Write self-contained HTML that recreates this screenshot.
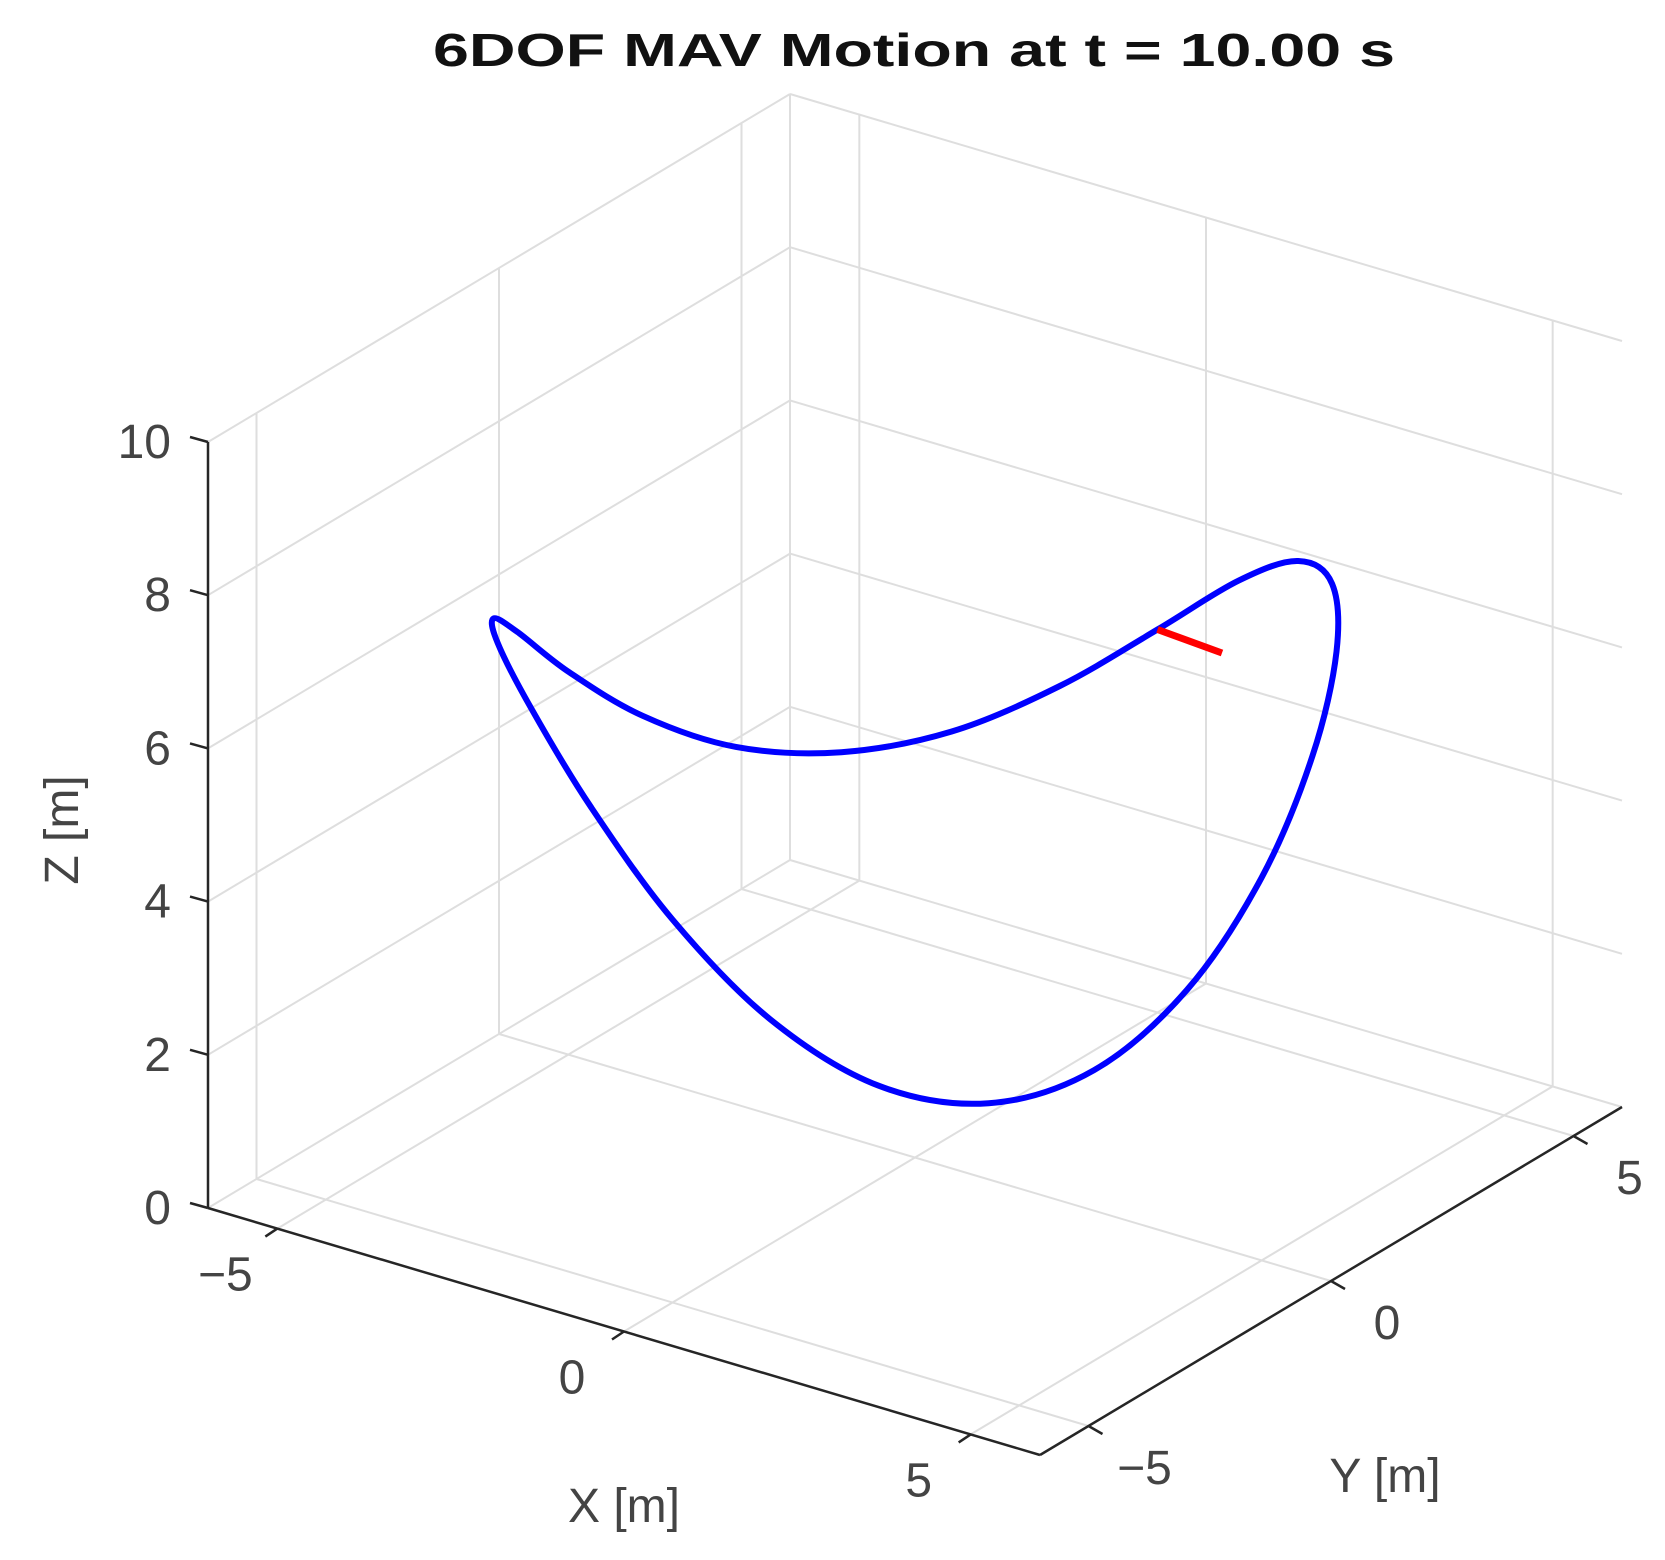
<!DOCTYPE html>
<html><head><meta charset="utf-8"><style>
html,body{margin:0;padding:0;background:#fff;}
svg{display:block;font-family:"Liberation Sans",sans-serif;}
</style></head><body>
<svg id="chart" width="1665" height="1560" viewBox="0 0 1665 1560" xmlns="http://www.w3.org/2000/svg">
<text x="914" y="66" text-anchor="middle" font-size="46" font-weight="bold" fill="#111" textLength="962" lengthAdjust="spacingAndGlyphs">6DOF MAV Motion at t = 10.00 s</text>
<g id="grid"></g>
<g id="axes"></g>
<g id="series"></g>
<text x="624" y="1522" text-anchor="middle" font-size="48" fill="#444">X [m]</text>
<text x="1385" y="1492" text-anchor="middle" font-size="48" fill="#444">Y [m]</text>
<text x="0" y="0" text-anchor="middle" font-size="48" fill="#444" transform="translate(78,830) rotate(-90)">Z [m]</text>
</svg>
<script>
// trajectory data
const trajX = [5,4.83,4.33,3.54,2.5,1.29,0,-1.29,-2.5,-3.54,-4.33,-4.83,-5,-4.83,-4.33,-3.54,-2.5,-1.29,0,1.29,2.5,3.54,4.33,4.83];
const trajY = [0,1.29,2.5,3.54,4.33,4.83,5,4.83,4.33,3.54,2.5,1.29,0,-1.29,-2.5,-3.54,-4.33,-4.83,-5,-4.83,-4.33,-3.54,-2.5,-1.29];
const trajZ = [5.0,6.05,6.82,7.1,6.82,6.05,5.0,3.98,3.25,3.0,3.25,3.98,5.0,6.05,6.82,7.1,6.82,6.05,5.0,3.98,3.25,3.0,3.25,3.98];
const headingStart = [0,5,5.0];
const headingEnd = [1.0,4.9,5.0];
const xTicks = [-5,0,5];
const yTicks = [-5,0,5];
const zTicks = [0,2,4,6,8,10];
const xTickLabels = ["\u22125","0","5"];
const yTickLabels = ["\u22125","0","5"];
const zTickLabels = ["0","2","4","6","8","10"];
const xRange = [-6,6], yRange = [-6,6], zRange = [0,10];

const NS = "http://www.w3.org/2000/svg";
const O = [208,1208], EX = [832,247], EY = [582,-348], EZ = [0,-766];
function P(x,y,z){
  const u=(x-xRange[0])/(xRange[1]-xRange[0]), v=(y-yRange[0])/(yRange[1]-yRange[0]), w=(z-zRange[0])/(zRange[1]-zRange[0]);
  return [O[0]+u*EX[0]+v*EY[0]+w*EZ[0], O[1]+u*EX[1]+v*EY[1]+w*EZ[1]];
}
function line(parent,a,b,stroke,width){
  const l=document.createElementNS(NS,"line");
  l.setAttribute("x1",a[0]);l.setAttribute("y1",a[1]);l.setAttribute("x2",b[0]);l.setAttribute("y2",b[1]);
  l.setAttribute("stroke",stroke);l.setAttribute("stroke-width",width);
  parent.appendChild(l);return l;
}
function text(parent,p,s,anchor){
  const t=document.createElementNS(NS,"text");
  t.setAttribute("x",p[0]);t.setAttribute("y",p[1]);t.setAttribute("text-anchor",anchor);
  t.setAttribute("font-size","48");t.setAttribute("fill","#444");t.textContent=s;
  parent.appendChild(t);return t;
}
const grid=document.getElementById("grid"), axes=document.getElementById("axes"), series=document.getElementById("series");
const GC="#dedede";
const [x0,x1]=xRange,[y0,y1]=yRange,[z0,z1]=zRange;
xTicks.forEach(x=>{const l=line(grid,P(x,y0,z0),P(x,y1,z0),GC,2);

});
yTicks.forEach(y=>{const l=line(grid,P(x0,y,z0),P(x1,y,z0),GC,2);

});
yTicks.forEach(y=>{const l=line(grid,P(x0,y,z0),P(x0,y,z1),GC,2);

});
xTicks.forEach(x=>{const l=line(grid,P(x,y1,z0),P(x,y1,z1),GC,2);

});
zTicks.forEach(z=>{
  const a=line(grid,P(x0,y0,z),P(x0,y1,z),GC,2);
  
  
  const b=line(grid,P(x0,y1,z),P(x1,y1,z),GC,2);
  
  
});
const bc=line(grid,P(x0,y1,z0),P(x0,y1,z1),GC,2);


const AC="#262626";
const za=line(axes,P(x0,y0,z0),P(x0,y0,z1),AC,2.5);


const xa=line(axes,P(x0,y0,z0),P(x1,y0,z0),AC,2.5);


const ya=line(axes,P(x1,y0,z0),P(x1,y1,z0),AC,2.5);


zTicks.forEach((z,i)=>{
  const p=P(x0,y0,z);
  const t=line(axes,p,[p[0]-18,p[1]-5],AC,2.5);
  
  
  const lb=text(axes,[p[0]-37,p[1]+16],zTickLabels[i],"end");
  
  
});
xTicks.forEach((x,i)=>{
  const p=P(x,y0,z0);
  const t=line(axes,p,[p[0]-12,p[1]+8],AC,2.5);
  
  
  const lb=text(axes,[p[0]-52,p[1]+62],xTickLabels[i],"middle");
  
  
});
yTicks.forEach((y,i)=>{
  const p=P(x1,y,z0);
  const t=line(axes,p,[p[0]+14,p[1]+8],AC,2.5);
  
  
  const lb=text(axes,[p[0]+56,p[1]+58],yTickLabels[i],"middle");
  
  
});
const pts=trajX.map((x,i)=>P(x,trajY[i],trajZ[i]));
const n=pts.length;
let d="M"+pts[0][0].toFixed(1)+","+pts[0][1].toFixed(1);
for(let i=0;i<n;i++){
  const p0=pts[(i-1+n)%n],p1=pts[i],p2=pts[(i+1)%n],p3=pts[(i+2)%n];
  const c1=[p1[0]+(p2[0]-p0[0])/6,p1[1]+(p2[1]-p0[1])/6];
  const c2=[p2[0]-(p3[0]-p1[0])/6,p2[1]-(p3[1]-p1[1])/6];
  d+=" C"+c1[0].toFixed(1)+","+c1[1].toFixed(1)+" "+c2[0].toFixed(1)+","+c2[1].toFixed(1)+" "+p2[0].toFixed(1)+","+p2[1].toFixed(1);
}
const path=document.createElementNS(NS,"path");
path.setAttribute("d",d+"Z");path.setAttribute("fill","none");path.setAttribute("stroke","#0000ff");path.setAttribute("stroke-width","6");


series.appendChild(path);
const hd=line(series,P(headingStart[0],headingStart[1],headingStart[2]),P(headingEnd[0],headingEnd[1],headingEnd[2]),"#ff0000",7);


</script>
</body></html>
